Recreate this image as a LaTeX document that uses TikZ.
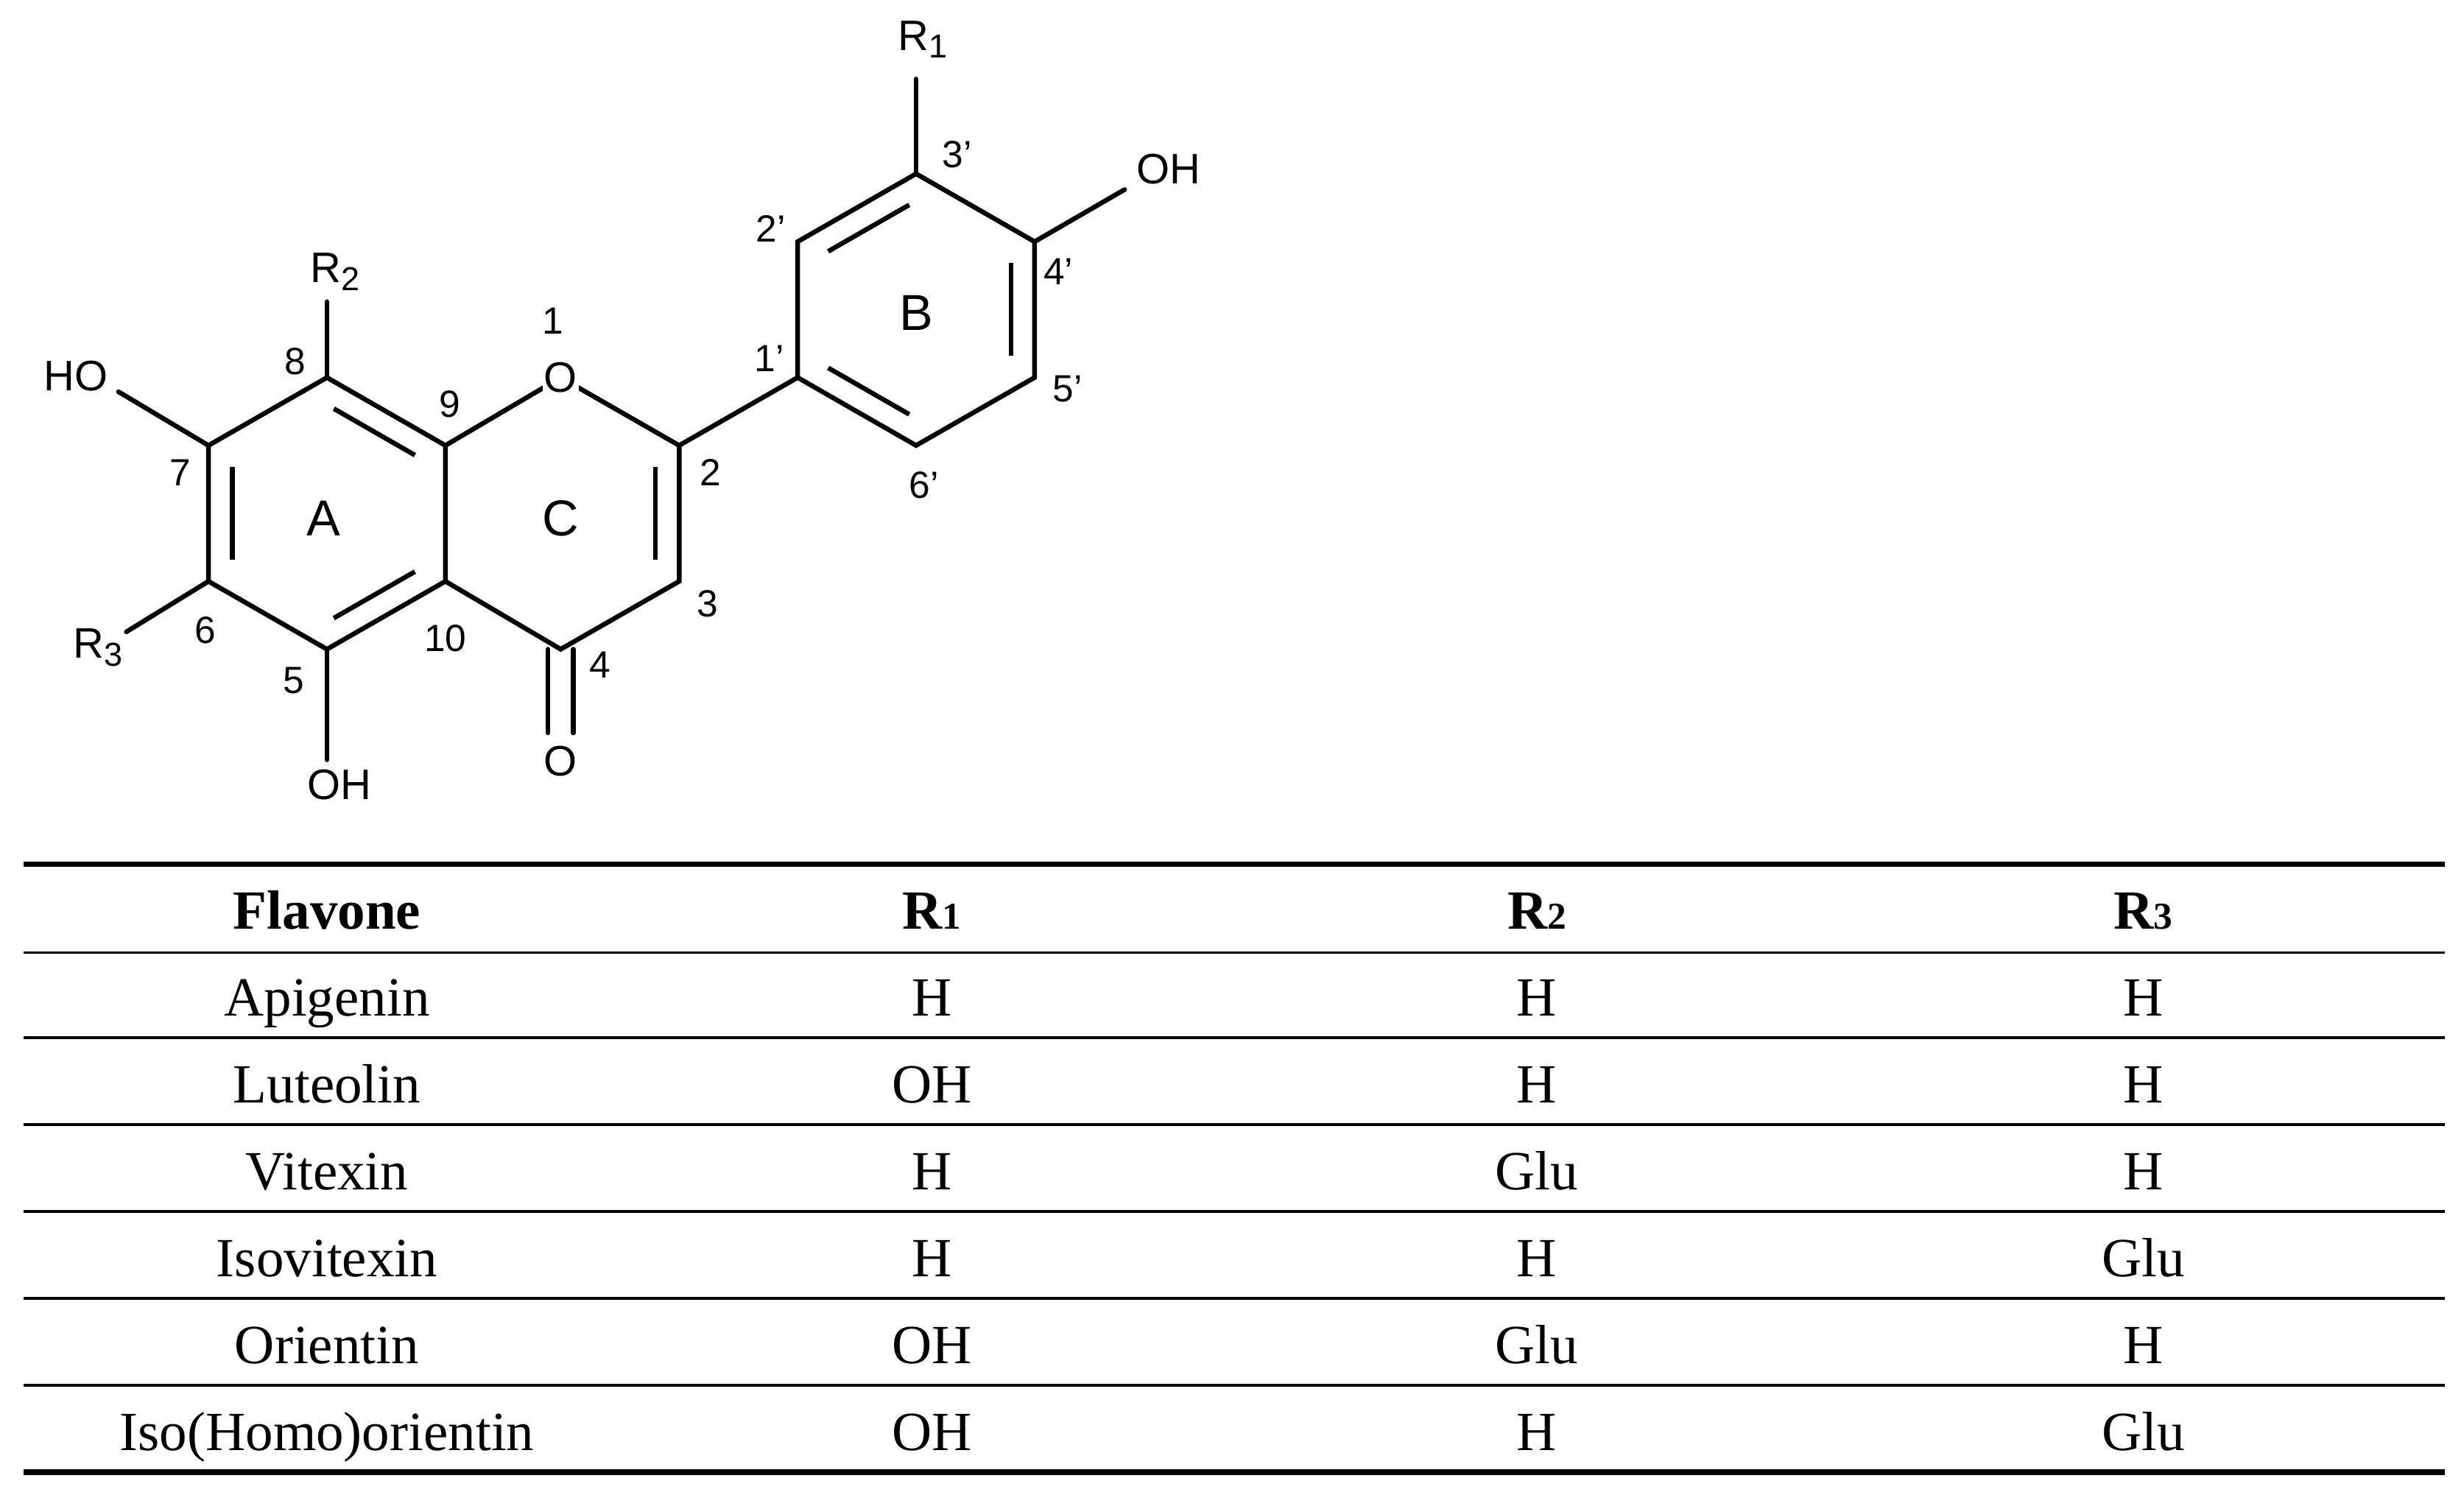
\documentclass[tikz,border=0pt]{standalone}
\usepackage{fontspec}
\usetikzlibrary{calc}
\setmainfont{Liberation Sans}
\newfontfamily\tabf{Liberation Serif}
\newcommand{\rsub}[1]{R\raisebox{-0.35ex}{\fontsize{21}{23}\selectfont #1}}
\begin{document}
\begin{tikzpicture}[x=1pt,y=-1pt,
  bond/.style={line width=3pt,line cap=round},
  dbl/.style={line width=3pt,shorten <=5pt,shorten >=5pt},
  atom/.style={font=\fontsize{27}{30}\selectfont,inner sep=1pt},
  num/.style={font=\fontsize{24}{26}\selectfont,inner sep=0pt},
  tx/.style={font=\tabf\fontsize{35}{40}\selectfont,anchor=base},
  hd/.style={font=\tabf\bfseries\fontsize{35}{40}\selectfont,anchor=base},
  thin/.style={line width=1.6pt},thick/.style={line width=3.5pt}]
\useasboundingbox (0,0) rectangle (1560,946);
% ring A
\coordinate (c8) at (207,239); \coordinate (c9) at (282,282);
\coordinate (c10) at (282,368); \coordinate (c5) at (207,411);
\coordinate (c6) at (132,368); \coordinate (c7) at (132,282);
\coordinate (o1) at (355,239); \coordinate (c2) at (430,282);
\coordinate (c3) at (430,368); \coordinate (c4) at (355,411);
% ring B
\coordinate (c1p) at (505,239); \coordinate (c2p) at (505,153);
\coordinate (c3p) at (580,110); \coordinate (c4p) at (655,153);
\coordinate (c5p) at (655,239); \coordinate (c6p) at (580,282);
\coordinate (ca) at (207,325); \coordinate (cc) at (355,325); \coordinate (cb) at (580,196);
\draw[bond] (c8)--(c9)--(c10)--(c5)--(c6)--(c7)--cycle;
\draw[bond] (c9)--(o1)--(c2)--(c3)--(c4)--(c10);
\draw[bond] (c1p)--(c2p)--(c3p)--(c4p)--(c5p)--(c6p)--cycle;
\draw[bond] (c2)--(c1p);
% inner double bonds
\draw[dbl] ($(c7)!0.2!(ca)$)--($(c6)!0.2!(ca)$);
\draw[dbl] ($(c8)!0.2!(ca)$)--($(c9)!0.2!(ca)$);
\draw[dbl] ($(c10)!0.2!(ca)$)--($(c5)!0.2!(ca)$);
\draw[dbl] ($(c2)!0.2!(cc)$)--($(c3)!0.2!(cc)$);
\draw[dbl] ($(c2p)!0.2!(cb)$)--($(c3p)!0.2!(cb)$);
\draw[dbl] ($(c4p)!0.2!(cb)$)--($(c5p)!0.2!(cb)$);
\draw[dbl] ($(c6p)!0.2!(cb)$)--($(c1p)!0.2!(cb)$);
% substituents
\node[atom,fill=white] (O1) at (o1) {O};
\node[atom] (Oc) at (355,482) {O};
\draw[bond] (347,411)--(347,464); \draw[bond] (363,411)--(363,464);
\node[atom] (OH5) at (215,497) {OH};
\draw[bond] (c5)--(207,481);
\node[atom] (HO7) at (48,238) {HO};
\draw[bond] (c7)--(75,248);
\node[atom] (R3) at (62,410) {\rsub{3}};
\draw[bond] (c6)--(80,400);
\node[atom] (R2) at (212,172) {\rsub{2}};
\draw[bond] (c8)--(207,191);
\node[atom] (R1) at (584,25) {\rsub{1}};
\draw[bond] (c3p)--(580,50);
\node[atom] (OH4) at (740,107) {OH};
\draw[bond] (c4p)--(712,120);
% ring letters
\node[atom,font=\fontsize{32}{34}\selectfont] at (205,328) {A};
\node[atom,font=\fontsize{32}{34}\selectfont] at (355,328) {C};
\node[atom,font=\fontsize{32}{34}\selectfont] at (580,198) {B};
% numbers
\node[num] at (350,203) {1}; \node[num] at (450,299) {2};
\node[num] at (448,382) {3}; \node[num] at (380,421) {4};
\node[num] at (186,431) {5}; \node[num] at (130,399) {6};
\node[num] at (114,299) {7}; \node[num] at (187,229) {8};
\node[num] at (285,256) {9}; \node[num] at (282,404) {10};
\node[num] at (487,227) {1'}; \node[num] at (488,145) {2'};
\node[num] at (606,98) {3'}; \node[num] at (670,172) {4'};
\node[num] at (676,246) {5'}; \node[num] at (585,307) {6'};
% table
\draw[thick] (15,547)--(1548,547); \draw[thick] (15,932)--(1548,932);
\foreach \y in {603,657,712,767,822,877} \draw[thin] (15,\y)--(1548,\y);
\node[hd] at (207,588) {Flavone};
\node[hd] at (590,588) {R{\fontsize{24}{26}\selectfont 1}};
\node[hd] at (973,588) {R{\fontsize{24}{26}\selectfont 2}};
\node[hd] at (1357,588) {R{\fontsize{24}{26}\selectfont 3}};
\foreach \n/\a/\b/\c [count=\i] in {Apigenin/H/H/H,Luteolin/OH/H/H,Vitexin/H/Glu/H,Isovitexin/H/H/Glu,Orientin/OH/Glu/H,Iso(Homo)orientin/OH/H/Glu}{
  \pgfmathsetmacro\yy{588+55*\i}
  \node[tx] at (207,\yy) {\n}; \node[tx] at (590,\yy) {\a};
  \node[tx] at (973,\yy) {\b}; \node[tx] at (1357,\yy) {\c};}
\end{tikzpicture}
\end{document}
